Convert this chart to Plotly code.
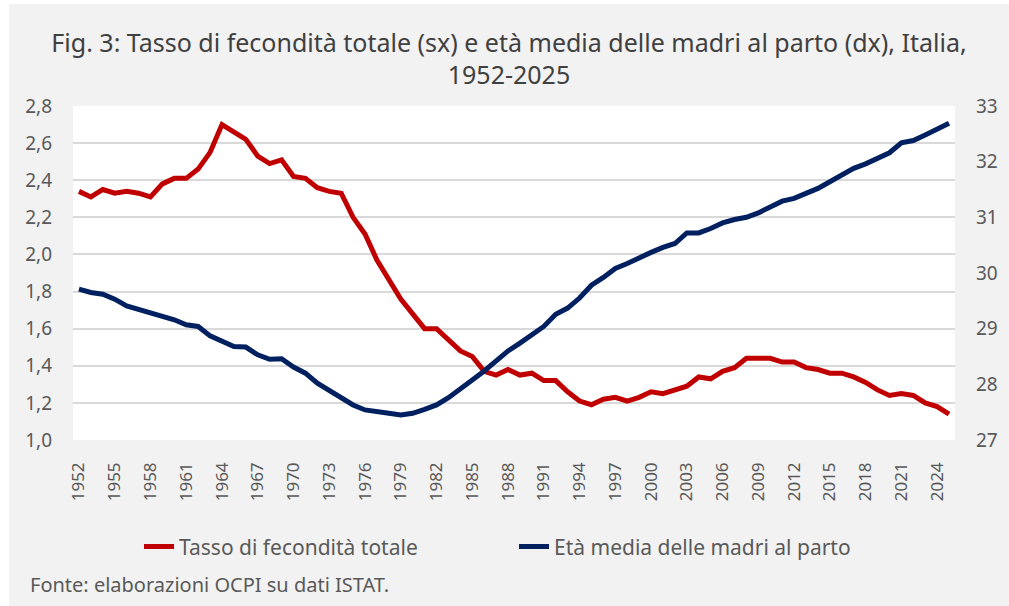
import plotly.graph_objects as go

years = list(range(1952, 2026))

fertility = [2.34, 2.31, 2.35, 2.33, 2.34, 2.33, 2.31, 2.38, 2.41, 2.41,
             2.46, 2.55, 2.70, 2.66, 2.62, 2.53, 2.49, 2.51, 2.42, 2.41,
             2.36, 2.34, 2.33, 2.20, 2.11, 1.97, 1.86, 1.76, 1.68, 1.60,
             1.60, 1.54, 1.48, 1.45, 1.37, 1.35, 1.38, 1.35, 1.36, 1.32,
             1.32, 1.26, 1.21, 1.19, 1.22, 1.23, 1.21, 1.23, 1.26, 1.25,
             1.27, 1.29, 1.34, 1.33, 1.37, 1.39, 1.44, 1.44, 1.44, 1.42,
             1.42, 1.39, 1.38, 1.36, 1.36, 1.34, 1.31, 1.27, 1.24, 1.25,
             1.24, 1.20, 1.18, 1.14]

mother_age = [29.71, 29.65, 29.62, 29.53, 29.41, 29.35, 29.29, 29.22, 29.16, 29.07,
              29.04, 28.87, 28.77, 28.68, 28.67, 28.53, 28.45, 28.46, 28.31, 28.20,
              28.02, 27.89, 27.77, 27.63, 27.54, 27.50, 27.48, 27.45, 27.48, 27.55,
              27.63, 27.76, 27.91, 28.08, 28.24, 28.41, 28.60, 28.74, 28.90, 29.04,
              29.26, 29.37, 29.55, 29.78, 29.92, 30.08, 30.17, 30.28, 30.37, 30.46,
              30.53, 30.72, 30.72, 30.80, 30.90, 30.96, 31.00, 31.08, 31.19, 31.29,
              31.34, 31.43, 31.52, 31.64, 31.76, 31.88, 31.96, 32.06, 32.16, 32.34,
              32.38, 32.48, 32.58, 32.69]

x_ticks = list(range(1952, 2025, 3))
left_ticks = [1.0, 1.2, 1.4, 1.6, 1.8, 2.0, 2.2, 2.4, 2.6, 2.8]
right_ticks = [27, 28, 29, 30, 31, 32, 33]

FONT = "Noto Sans, sans-serif"
GREY = "#595959"

fig = go.Figure()
fig.add_trace(go.Scatter(x=years, y=fertility, mode="lines", name="Tasso di fecondità totale",
                         line=dict(color="#c00000", width=5)))
fig.add_trace(go.Scatter(x=years, y=mother_age, mode="lines", name="Età media delle madri al parto",
                         line=dict(color="#002060", width=5), yaxis="y2"))

fig.update_layout(
    width=1000, height=602,
    paper_bgcolor="#f2f2f2", plot_bgcolor="#ffffff",
    separators=",.",
    font=dict(family=FONT, color=GREY),
    margin=dict(l=64, r=54, t=102, b=166),
    title=dict(text="Fig. 3: Tasso di fecondità totale (sx) e età media delle madri al parto (dx), Italia,<br>1952-2025",
               x=0.5, xanchor="center", y=0.921, yanchor="top",
               font=dict(family=FONT, size=25, color="#404040")),
    xaxis=dict(range=[1951.5, 2025.5], tickvals=x_ticks, tickangle=-90,
               tickfont=dict(size=17, color=GREY), showgrid=False, zeroline=False,
               showline=False, ticks="", ticklabelstandoff=18),
    yaxis=dict(range=[1.0, 2.8], tickvals=left_ticks, tickformat=".1f",
               tickfont=dict(size=19, color=GREY), gridcolor="#d9d9d9", gridwidth=1.5,
               zeroline=False, showline=False, ticks="", ticklabelstandoff=20),
    yaxis2=dict(range=[27, 33], tickvals=right_ticks, overlaying="y", side="right",
                tickfont=dict(size=19, color=GREY), showgrid=False, zeroline=False,
                showline=False, ticks="", ticklabelstandoff=20),
    legend=dict(orientation="h", x=0.5, xanchor="center", y=-0.32, yanchor="middle",
                font=dict(size=21, color=GREY), bgcolor="rgba(0,0,0,0)",
                itemwidth=30, entrywidth=330),
    annotations=[dict(text="Fonte: elaborazioni OCPI su dati ISTAT.", xref="paper", yref="paper",
                      x=-0.051, y=-0.434, xanchor="left", yanchor="middle", showarrow=False,
                      font=dict(family=FONT, size=20, color=GREY))],
)

fig.write_html("out.html",
               post_script="document.body.style.margin='4px 0 0 9px';document.body.style.background='#ffffff';")
